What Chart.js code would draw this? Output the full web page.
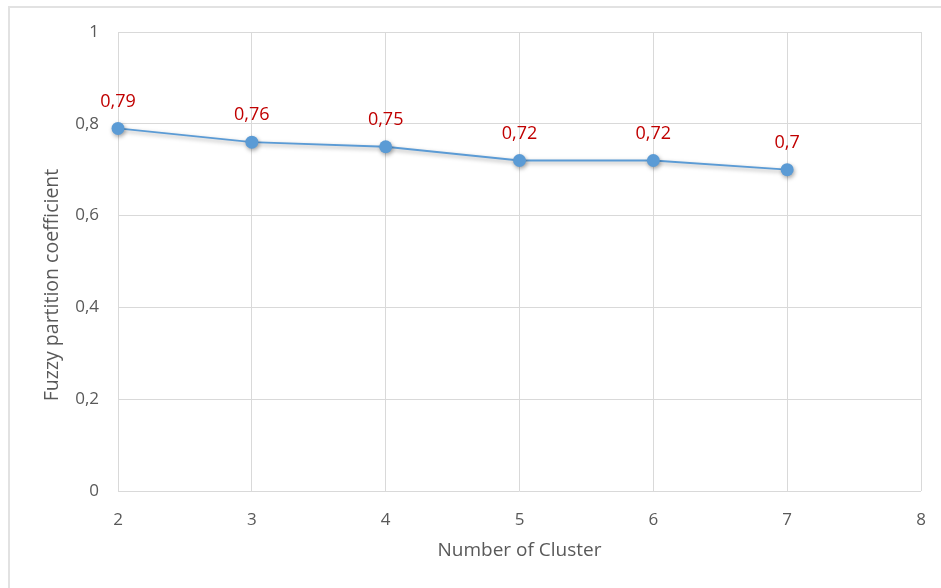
<!DOCTYPE html>
<html>
<head>
<meta charset="utf-8">
<script src="https://cdn.jsdelivr.net/npm/chart.js@4"></script>
<style>
  html, body { margin: 0; padding: 0; background: #fff; overflow: hidden; }
  #wrap { position: relative; width: 941px; height: 588px; }
  #frame { position: absolute; left: 8px; top: 6px; width: 960px; height: 620px;
           border: 2px solid #e2e2e2; box-sizing: border-box; }
  canvas { position: absolute; left: 0; top: 0; }
</style>
</head>
<body>
<div id="wrap">
  <div id="frame"></div>
  <canvas id="c" width="941" height="588"></canvas>
</div>
<script>
// Cluster counts and their fuzzy partition coefficient
const clusters = [2, 3, 4, 5, 6, 7];
const fpcValues = [0.79, 0.76, 0.75, 0.72, 0.72, 0.7];
const yTicks = [0, 0.2, 0.4, 0.6, 0.8, 1];
const xTitle = 'Number of Cluster';
const yTitle = 'Fuzzy partition coefficient';

const fmt = v => String(v).replace('.', ',');
const FONT = "'Open Sans', 'Liberation Sans', sans-serif";

// Soft drop shadow under the line and markers
const shadowPlugin = {
  id: 'shadow',
  beforeDatasetsDraw(chart) {
    const ctx = chart.ctx;
    ctx.save();
    ctx.shadowColor = 'rgba(0,0,0,0.35)';
    ctx.shadowBlur = 4;
    ctx.shadowOffsetX = 1;
    ctx.shadowOffsetY = 2;
  },
  afterDatasetsDraw(chart) {
    chart.ctx.restore();
  }
};

// Value labels above each point
const valueLabels = {
  id: 'valueLabels',
  afterDatasetsDraw(chart) {
    const ctx = chart.ctx;
    const meta = chart.getDatasetMeta(0);
    ctx.save();
    ctx.font = '18px ' + FONT;
    ctx.fillStyle = '#c00000';
    ctx.textAlign = 'center';
    ctx.textBaseline = 'middle';
    meta.data.forEach((pt, i) => {
      ctx.fillText(fmt(fpcValues[i]), pt.x, pt.y - 27);
    });
    ctx.restore();
  }
};

// Rotated value-axis title, centred on the whole frame height
const yAxisTitle = {
  id: 'yAxisTitle',
  afterDraw(chart) {
    const ctx = chart.ctx;
    ctx.save();
    ctx.translate(52, 285);
    ctx.rotate(-Math.PI / 2);
    ctx.font = '19.5px ' + FONT;
    ctx.fillStyle = '#595959';
    ctx.textAlign = 'center';
    ctx.textBaseline = 'middle';
    ctx.fillText(yTitle, 0, 0);
    ctx.restore();
  }
};

new Chart(document.getElementById('c'), {
  type: 'line',
  data: {
    datasets: [{
      data: clusters.map((x, i) => ({ x: x, y: fpcValues[i] })),
      borderColor: '#5b9bd5',
      backgroundColor: '#5b9bd5',
      borderWidth: 1.8,
      pointRadius: 6.5,
      pointHoverRadius: 6.5,
      pointBorderWidth: 0,
      tension: 0,
      clip: false
    }]
  },
  options: {
    responsive: false,
    animation: false,
    devicePixelRatio: 1,
    layout: { padding: { left: 37, right: 20, top: 32, bottom: 26 } },
    plugins: { legend: { display: false }, tooltip: { enabled: false } },
    scales: {
      x: {
        type: 'linear',
        min: 2, max: 8,
        ticks: { stepSize: 1, color: '#595959', font: { family: FONT, size: 17 }, padding: 19 },
        grid: { color: '#d9d9d9', lineWidth: 1, drawTicks: false },
        border: { display: false },
        title: { display: true, text: xTitle, color: '#595959',
                 font: { family: FONT, size: 19 }, padding: 0 },
        afterFit(s) { s.height = 71; s.paddingLeft = 0; s.paddingRight = 0; }
      },
      y: {
        min: 0, max: 1,
        afterBuildTicks(s) { s.ticks = yTicks.map(v => ({ value: v })); },
        ticks: { color: '#595959', font: { family: FONT, size: 17 }, padding: 19,
                 callback: v => fmt(v) },
        grid: { color: '#d9d9d9', lineWidth: 1, drawTicks: false },
        border: { display: false },
        title: { display: false },
        afterFit(s) { s.width = 81; s.paddingTop = 0; s.paddingBottom = 0; }
      }
    }
  },
  plugins: [shadowPlugin, valueLabels, yAxisTitle]
});
</script>
</body>
</html>
